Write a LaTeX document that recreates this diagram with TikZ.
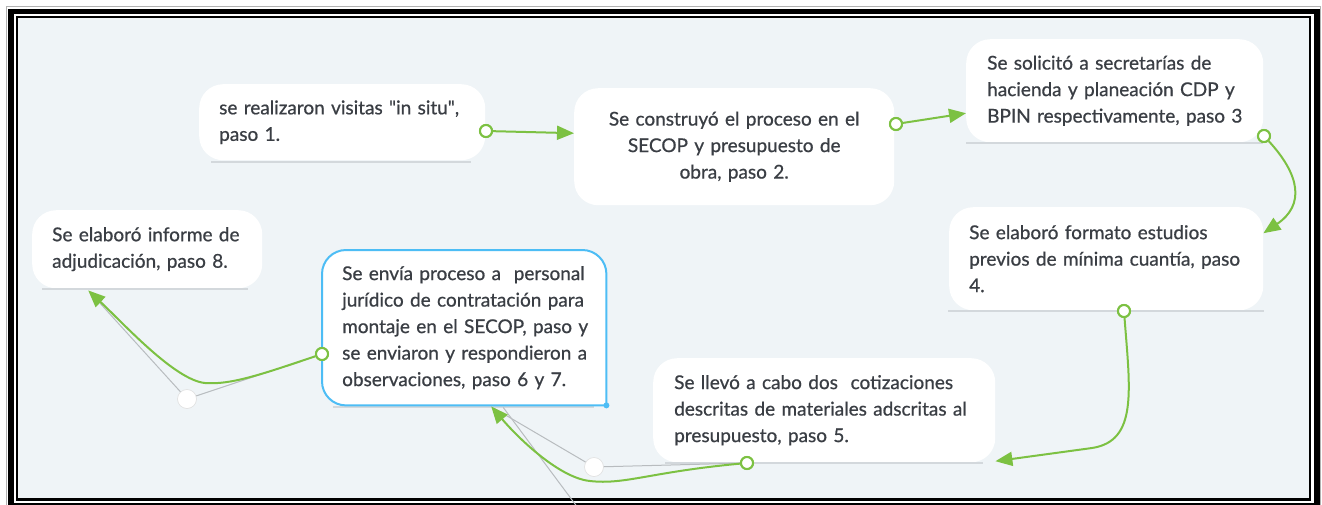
\documentclass[tikz,border=0pt]{standalone}
\usepackage{fontspec}
\setmainfont{Lato}[FakeBold=0.7]
\usetikzlibrary{arrows.meta,calc}
\definecolor{bg}{HTML}{EFF4F7}
\definecolor{grn}{HTML}{7CC142}
\definecolor{txt}{HTML}{3A3E44}
\definecolor{uline}{HTML}{D3D8DC}
\definecolor{gline}{HTML}{B8BCBF}
\definecolor{bluec}{HTML}{4DBDF5}
\newcommand{\myline}[1]{\mbox{#1}}
\begin{document}
\begin{tikzpicture}[x=1pt,y=-1pt,
  box/.style={fill=white, rounded corners=24pt, inner xsep=20pt, inner ysep=0pt,
    font=\fontsize{19}{26.5}\selectfont, text=txt, align=left, anchor=north west},
  dot/.style={circle, draw=grn, line width=2pt, fill=white, minimum size=12pt, inner sep=0pt},
  wdot/.style={circle, draw=gray!25, line width=0.6pt, fill=white, minimum size=19pt, inner sep=0pt},
  garrow/.style={draw=grn, line width=2pt, -{Triangle[length=17pt,width=14pt]}},
  gl/.style={draw=gline, line width=1pt},
  ul/.style={draw=uline, line width=2pt}]
% page and frame
\fill[white] (0,0) rectangle (1322,504);
\useasboundingbox (0,0) rectangle (1322,504);
\fill[bg] (18,18) rectangle (1309,498.5);
\draw[gray!60, line width=1pt] (6.5,6.5) rectangle (1320.5,512);
\draw[black, line width=5.5pt] (11,11.5) rectangle (1317,506);
\draw[black, line width=2.6pt] (17,17) rectangle (1310,499.5);
% boxes
\node[box, text width=246pt, minimum height=76pt] (b1) at (199,84)
  {\myline{se realizaron visitas \textquotedbl in situ\textquotedbl,}\\\myline{paso 1.}};
\node[box, text width=280pt, minimum height=117pt, align=center] (b2) at (574,88)
  {\myline{Se construyó el proceso en el}\\\myline{SECOP y presupuesto de}\\\myline{obra, paso 2.}};
\node[box, text width=255pt, inner xsep=21pt, minimum height=103pt] (b3) at (966,39)
  {\myline{Se solicitó a secretarías de}\\\myline{hacienda y planeación CDP y}\\\myline{BPIN respectivamente, paso 3}};
\node[box, text width=274pt, minimum height=103pt] (b4) at (949,207)
  {\myline{Se elaboró formato estudios}\\\myline{previos de mínima cuantía, paso}\\\myline{4.}};
\node[box, text width=300pt, inner xsep=21pt, minimum height=104pt] (b5) at (653,358)
  {\myline{Se llevó a cabo dos\ \ cotizaciones}\\\myline{descritas de materiales adscritas al}\\\myline{presupuesto, paso 5.}};
\node[box, fill=none, rounded corners=0pt, text width=244pt, minimum height=155pt] (b6) at (322,250)
  {\phantom{X}};
\node[box, text width=190pt, minimum height=78pt] (b8) at (32,210)
  {\myline{Se elaboró informe de}\\\myline{adjudicación, paso 8.}};
% underlines
\draw[ul] ([xshift=12pt,yshift=-1.5pt]b1.south west) -- ([xshift=-14pt,yshift=-1.5pt]b1.south east);
\draw[ul] ([yshift=-1pt]b3.south west) -- ([yshift=-1pt]b3.south east);
\draw[ul] ([xshift=-1pt,yshift=-1pt]b4.south west) -- ([xshift=1pt,yshift=-1pt]b4.south east);
\draw[ul] ([xshift=12pt,yshift=-1pt]b5.south west) -- ([xshift=-12pt,yshift=-1pt]b5.south east);
\draw[ul] ([xshift=11pt,yshift=-1.5pt]b6.south west) -- ([xshift=-12pt,yshift=-1.5pt]b6.south east);
\draw[ul] ([xshift=10pt,yshift=-1pt]b8.south west) -- ([xshift=-14pt,yshift=-1pt]b8.south east);
% box 6 (blue border, square bottom-right corner)
\fill[white, rounded corners=24pt] (b6.south east) -- (b6.north east) -- (b6.north west) -- (b6.south west) -- (b6.south east);
\fill[white] ([xshift=-30pt]b6.south east) rectangle ([yshift=30pt]b6.south east);
\draw[bluec, line width=2pt, rounded corners=24pt] (b6.south east) -- (b6.north east) -- (b6.north west) -- (b6.south west) -- (b6.south east);
\fill[bluec] (b6.south east) circle (3pt);
\node[box, fill=none, text width=244pt, minimum height=155pt] (t6) at (322,250)
  {\myline{Se envía proceso a\ \ personal}\\\myline{jurídico de contratación para}\\\myline{montaje en el SECOP, paso y}\\\myline{se enviaron y respondieron a}\\\myline{observaciones, paso 6 y 7.}};
% helper circles
\node[dot] (c1) at (486,131) {};
\node[dot] (c2) at (896,124) {};
\node[dot] (c3) at (1264,136) {};
\node[dot] (c4) at (1124,311) {};
\node[dot] (c5) at (747,463) {};
\node[dot] (c6) at (322,354) {};
\node[wdot] (w5) at (594,467) {};
\node[wdot] (w8) at (187,399) {};
\coordinate (gx) at (578,508);
% gray lines
\draw[gl] (c5) -- (w5);
\draw[gl] (w5) -- ([xshift=30pt,yshift=-3pt]b6.south);
\draw[gl] ([xshift=39pt,yshift=-2pt]b6.south) -- (gx);
\draw[gl] (c6) -- (w8);
\draw[gl] (w8) -- ([xshift=-57pt,yshift=-4pt]b8.south);
% green connectors
\draw[garrow] (c1) -- ([yshift=13.5pt]b2.west);
\draw[garrow] (c2) -- ([yshift=-22.5pt]b3.west);
\draw[garrow] (c3) .. controls (1300,175) and (1305,205) .. ([yshift=25.5pt]b4.east);
\draw[garrow] (c4) .. controls (1130,390) and (1138,441) .. (1092,448) -- ([yshift=-51pt]b5.east);
\draw[garrow] (c5) .. controls (650,472) and (625,485) .. (590,481) .. controls (560,478) and (520,440) .. ([xshift=27pt,yshift=-1pt]b6.south);
\draw[garrow] (c6) .. controls (260,375) and (230,385) .. (205,383) .. controls (175,380) and (125,325) .. ([xshift=-59pt,yshift=-2pt]b8.south);
% redraw circles on top
\node[dot] at (c1) {};
\node[dot] at (c2) {};
\node[dot] at (c3) {};
\node[dot] at (c4) {};
\node[dot] at (c5) {};
\node[dot] at (c6) {};
\end{tikzpicture}
\end{document}
